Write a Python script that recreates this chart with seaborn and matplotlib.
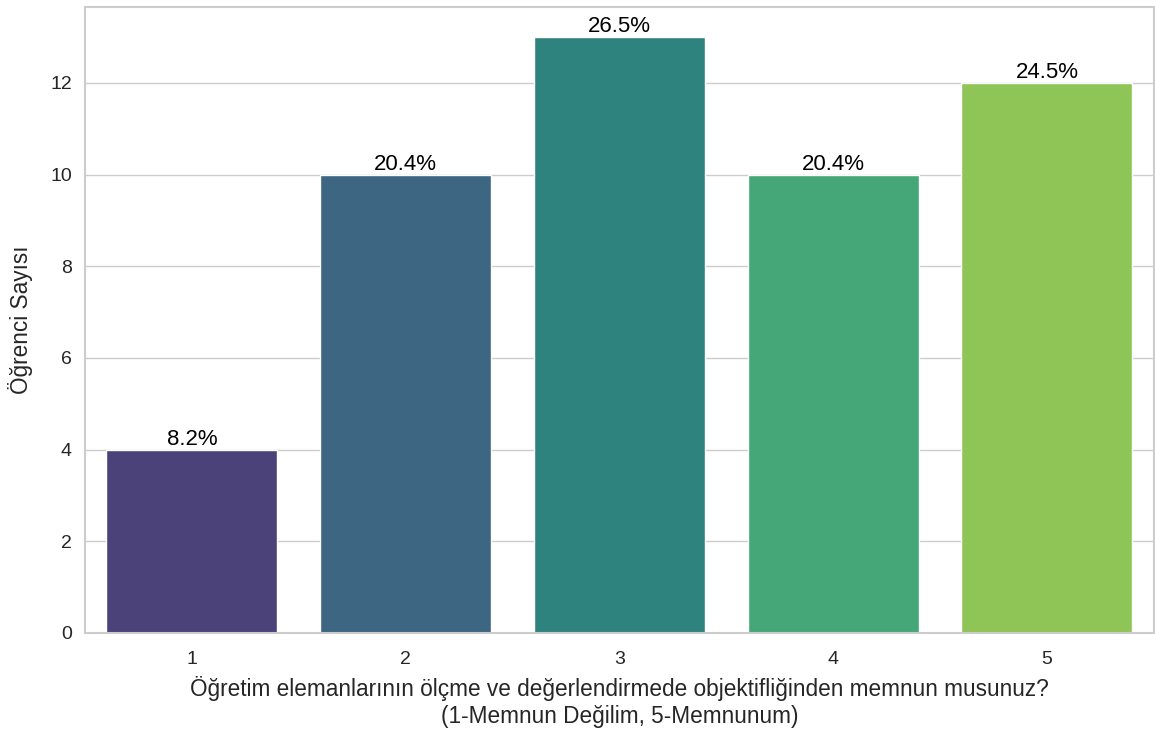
import matplotlib
matplotlib.use("Agg")
import matplotlib.pyplot as plt
import seaborn as sns
import pandas as pd

categories = ["1", "2", "3", "4", "5"]
counts = [4, 10, 13, 10, 12]
xlabel = "Öğretim elemanlarının ölçme ve değerlendirmede objektifliğinden memnun musunuz?\n(1-Memnun Değilim, 5-Memnunum)"
ylabel = "Öğrenci Sayısı"

sns.set_theme(style="whitegrid")
plt.rcParams['font.family'] = ['Liberation Sans', 'DejaVu Sans']

df = pd.DataFrame({"cat": categories, "count": counts})
fig, ax = plt.subplots(figsize=(11.55, 7.29), dpi=100)
sns.barplot(data=df, x="cat", y="count", hue="cat", palette="viridis", legend=False, ax=ax)

total = sum(counts)
for p, c in zip(ax.patches, counts):
    ax.annotate(f"{c / total * 100:.1f}%", (p.get_x() + p.get_width() / 2, p.get_height()),
                ha="center", va="bottom", fontsize=16, color="black")

ax.set_xlabel(xlabel, fontsize=16.3, labelpad=6)
ax.set_ylabel(ylabel, fontsize=16.3, labelpad=12)
ax.tick_params(labelsize=14)
ax.tick_params(axis="x", pad=7)
for s in ax.spines.values():
    s.set_color("#cccccc")
    s.set_linewidth(1.5)
fig.subplots_adjust(left=0.0736, right=0.999, top=0.990, bottom=0.1317)
fig.savefig("out.png", dpi=100)
